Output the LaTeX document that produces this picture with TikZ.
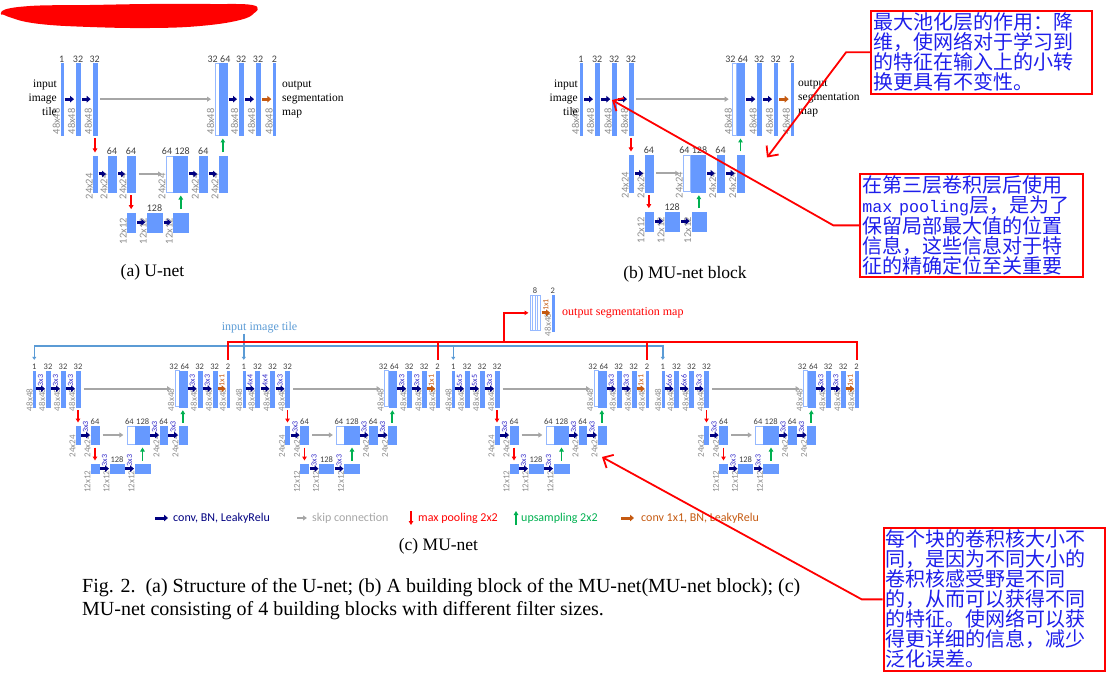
\documentclass[tikz,border=0pt]{standalone}
\usepackage{fontspec}
\setmainfont{Liberation Serif}
\setsansfont{Carlito}
\setmonofont{Liberation Mono}
\newfontfamily\cjk{Noto Sans CJK SC}
\usetikzlibrary{arrows.meta}

\definecolor{fmblue}{RGB}{102,153,255}
\definecolor{fmedge}{RGB}{150,185,255}
\definecolor{convblue}{RGB}{0,0,128}
\definecolor{kernblue}{RGB}{48,40,200}
\definecolor{skipgray}{RGB}{166,166,166}
\definecolor{labgray}{RGB}{140,140,140}
\definecolor{poolred}{RGB}{255,0,0}
\definecolor{upgreen}{RGB}{0,176,80}
\definecolor{oneorange}{RGB}{197,90,17}
\definecolor{inblue}{RGB}{91,155,213}
\definecolor{notered}{RGB}{255,0,0}
\definecolor{noteblue}{RGB}{30,30,235}

\tikzset{
  fmap/.style={draw=fmblue, fill=fmblue, line width=0.3pt, inner sep=0pt, outer sep=0pt, anchor=north west},
  cmap/.style={draw=fmedge, fill=white, line width=0.7pt, inner sep=0pt, outer sep=0pt, anchor=north west},
  numlab/.style={font=\sffamily\fontsize{10}{10}\selectfont, text=black!75, inner sep=1pt, anchor=south},
  szlab/.style={font=\sffamily\fontsize{10.5}{10.5}\selectfont, text=labgray, rotate=90, anchor=south west, inner sep=0.5pt},
  kernlab/.style={font=\sffamily\fontsize{8}{8}\selectfont, text=kernblue, rotate=90, anchor=west, inner sep=0.8pt},
  conv/.style={draw=convblue, line width=3pt, -{Triangle[length=4pt,width=6.5pt]}, shorten <=#1, shorten >=#1},
  conv/.default=2pt,
  convone/.style={conv=#1, draw=oneorange},
  convone/.default=2pt,
  skipcon/.style={draw=skipgray, line width=2pt, -{Triangle[length=4pt,width=5pt]}, shorten <=3.5pt, shorten >=4pt},
  pool/.style={draw=poolred, line width=1.8pt, -{Triangle[length=4pt,width=4.5pt]}, shorten <=3.5pt, shorten >=3.5pt},
  upsam/.style={pool, draw=upgreen},
  inline/.style={draw=inblue, line width=1.5pt},
  redline/.style={draw=notered, line width=2pt},
  sidetxt/.style={font=\fontsize{11.5}{14}\selectfont, inner sep=0pt},
  captxt/.style={font=\fontsize{17.5}{20}\selectfont, inner sep=0pt, anchor=base},
  figtxt/.style={font=\fontsize{20}{23}\selectfont, inner sep=0pt, anchor=base west},
  legtxt/.style={font=\sffamily\fontsize{12}{12}\selectfont, inner sep=0pt, anchor=west},
  note/.style={draw=notered, line width=2pt, fill=white, font=\cjk\fontsize{20}{20}\selectfont, text=noteblue, align=left, inner xsep=2pt, inner ysep=0pt, anchor=north west},
  notearrow/.style={draw=notered, line width=1.8pt, -{Straight Barb[length=8pt,width=15pt]}}
}

% bar: [style]{name}{x}{y}{width}{height}{number}{size}{size drop}
\newcommand{\fmbar}[9][fmap]{%
  \node[#1, minimum width=#5pt, minimum height=#6pt] (#2) at (#3,#4) {};
  \if\relax\detokenize{#7}\relax\else\node[numlab] (#2-n) at (#2.north) {#7};\fi
  \if\relax\detokenize{#8}\relax\else\node[szlab] (#2-s) at ([yshift=-#9pt]#2.south west) {#8};\fi
}

% one MU-net block of (c): {name}{x}{k1}{k2}{k3}
\newcommand{\mublock}[5]{%
  \begin{scope}[xshift=#2pt]
    \fmbar{#1-i}{0}{370.7}{2}{36}{1}{48x48}{5}
    \fmbar{#1-c1}{12.7}{370.7}{4}{36}{32}{48x48}{5}
    \fmbar{#1-c2}{27.7}{370.7}{4}{36}{32}{48x48}{5}
    \fmbar{#1-c3}{42.7}{370.7}{4}{36}{32}{48x48}{5}
    \fmbar[cmap]{#1-cw}{141.7}{370.7}{4.3}{36}{}{48x48}{5}
    \fmbar{#1-cb}{146}{370.7}{7.4}{36}{}{}{0}
    \node[numlab, anchor=south east] (#1-cw-n) at (#1-cw.north east) {32};
    \node[numlab, anchor=south west] (#1-cb-n) at (#1-cb.north west) {64};
    \fmbar{#1-d1}{164.4}{370.7}{4}{36}{32}{48x48}{5}
    \fmbar{#1-d2}{179.4}{370.7}{4}{36}{32}{48x48}{5}
    \fmbar{#1-o}{193.4}{370.7}{2.6}{36}{2}{48x48}{5}
    \fmbar{#1-m0}{42.7}{426}{4}{18}{}{24x24}{14}
    \fmbar{#1-m1}{57.7}{426}{8}{18}{64}{24x24}{14}
    \fmbar[cmap]{#1-mw}{94}{426}{7.7}{18}{}{}{0}
    \fmbar{#1-mb}{101.7}{426}{14.3}{18}{}{}{0}
    \node[numlab, anchor=south east] (#1-mw-n) at (#1-mw.north east) {64};
    \node[numlab, anchor=south west] (#1-mb-n) at (#1-mb.north west) {128};
    \fmbar{#1-m2}{126.7}{426}{7.3}{18}{64}{24x24}{14}
    \fmbar{#1-m3}{145.7}{426}{7.7}{18}{}{24x24}{14}
    \fmbar{#1-b0}{57.7}{464}{8}{9.3}{}{12x12}{20}
    \fmbar{#1-b1}{76.7}{464}{14}{9.3}{128}{12x12}{20}
    \fmbar{#1-b2}{101.7}{464}{15}{9.3}{}{12x12}{20}
    \draw[conv=1pt] (#1-i) -- node[kernlab] {#3} (#1-c1);
    \draw[conv=1pt] (#1-c1) -- node[kernlab] {#4} (#1-c2);
    \draw[conv=1pt] (#1-c2) -- node[kernlab] {#5} (#1-c3);
    \draw[skipcon] (#1-c3) -- (#1-cw);
    \draw[conv=1pt] (#1-cb) -- node[kernlab] {3x3} (#1-d1);
    \draw[conv=1pt] (#1-d1) -- node[kernlab] {3x3} (#1-d2);
    \draw[convone=1pt] (#1-d2) -- node[kernlab, text=oneorange] {1x1} (#1-o);
    \draw[conv=1pt] (#1-m0) -- node[kernlab] {3x3} (#1-m1);
    \draw[skipcon] (#1-m1) -- (#1-mw);
    \draw[conv=1pt] (#1-mb) -- node[kernlab] {3x3} (#1-m2);
    \draw[conv=1pt] (#1-m2) -- node[kernlab] {3x3} (#1-m3);
    \draw[conv=1pt] (#1-b0) -- node[kernlab] {3x3} (#1-b1);
    \draw[conv=1pt] (#1-b1) -- node[kernlab] {3x3} (#1-b2);
    \draw[pool] (#1-m0.north |- #1-c3.south) -- (#1-m0.north);
    \draw[pool] (#1-b0.north |- #1-m1.south) -- (#1-b0.north);
    \draw[upsam] (#1-m3.north) -- (#1-m3.north |- #1-cb.south);
    \draw[upsam] (#1-b2.north) -- (#1-b2.north |- #1-mb.south);
  \end{scope}}

\begin{document}
\begin{tikzpicture}[x=1pt, y=-1pt]
  \useasboundingbox (0,0) rectangle (1117,682);

  % redacted title
  \fill[notered] plot[smooth cycle, tension=0.7] coordinates {(2,11) (30,6) (90,5) (150,4) (210,4) (252,5) (255,12) (240,20) (200,26) (150,28) (90,27) (40,24) (12,18)};
  \draw[notered, line width=1.5pt] plot[smooth, tension=0.8] coordinates {(1,14) (50,9) (120,13) (180,8) (240,14) (257,9)};

  % (a) U-net
  \fmbar{a-i}{60.7}{63.3}{2}{71.7}{1}{48x48}{0}
  \fmbar{a-c1}{76}{63.3}{4}{71.7}{32}{48x48}{0}
  \fmbar{a-c2}{92.7}{63.3}{4}{71.7}{32}{48x48}{0}
  \fmbar[cmap]{a-cw}{215}{63.3}{4}{71.7}{}{48x48}{0}
  \fmbar{a-cb}{219}{63.3}{7.7}{71.7}{}{}{0}
  \node[numlab, anchor=south east] (a-cw-n) at (a-cw.north east) {32};
  \node[numlab, anchor=south west] (a-cb-n) at (a-cb.north west) {64};
  \fmbar{a-d1}{239}{63.3}{4.3}{71.7}{32}{48x48}{0}
  \fmbar{a-d2}{256}{63.3}{4}{71.7}{32}{48x48}{0}
  \fmbar{a-o}{273.3}{63.3}{2}{71.7}{2}{48x48}{0}
  \fmbar{a-m0}{93.3}{156}{3.4}{36}{}{24x24}{8}
  \fmbar{a-m1}{108}{156}{8}{36}{64}{24x24}{8}
  \fmbar{a-m2}{127}{156}{8}{36}{64}{24x24}{8}
  \fmbar[cmap]{a-mw}{166}{156}{7.3}{36}{}{24x24}{8}
  \fmbar{a-mb}{173.3}{156}{14}{36}{}{}{0}
  \node[numlab, anchor=south east] (a-mw-n) at (a-mw.north east) {64};
  \node[numlab, anchor=south west] (a-mb-n) at (a-mb.north west) {128};
  \fmbar{a-m3}{199.3}{156}{8}{36}{64}{24x24}{8}
  \fmbar{a-m4}{219}{156}{7.7}{36}{}{24x24}{8}
  \fmbar{a-b0}{127.3}{212.7}{7.7}{19}{}{12x12}{13}
  \fmbar{a-b1}{147.3}{212.7}{14.4}{19}{128}{12x12}{13}
  \fmbar{a-b2}{173.3}{212.7}{15}{19}{}{12x12}{13}
  \draw[conv] (a-i) -- (a-c1);
  \draw[conv] (a-c1) -- (a-c2);
  \draw[skipcon] (a-c2) -- (a-cw);
  \draw[conv] (a-cb) -- (a-d1);
  \draw[conv] (a-d1) -- (a-d2);
  \draw[convone] (a-d2) -- (a-o);
  \draw[conv] (a-m0) -- (a-m1);
  \draw[conv] (a-m1) -- (a-m2);
  \draw[skipcon] (a-m2) -- (a-mw);
  \draw[conv] (a-mb) -- (a-m3);
  \draw[conv] (a-m3) -- (a-m4);
  \draw[conv] (a-b0) -- (a-b1);
  \draw[conv] (a-b1) -- (a-b2);
  \draw[pool] (a-m0.north |- a-c2.south) -- (a-m0.north);
  \draw[pool] (a-b0.north |- a-m2.south) -- (a-b0.north);
  \draw[upsam] (a-m4.north) -- (a-m4.north |- a-cb.south);
  \draw[upsam] (a-b2.north) -- (a-b2.north |- a-mb.south);
  \node[sidetxt, align=right, anchor=east] (a-intxt) at (57,98) {input\\image\\tile};
  \node[sidetxt, align=left, anchor=west] (a-outtxt) at (282,99) {output\\segmentation\\map};
  \node[captxt] (capa) at (152.5,276) {(a) U-net};

  % (b) MU-net block
  \fmbar{b-i}{580}{63.3}{2}{71.7}{1}{48x48}{0}
  \fmbar{b-c1}{595}{63.3}{4.3}{71.7}{32}{48x48}{0}
  \fmbar{b-c2}{612.3}{63.3}{3.7}{71.7}{32}{48x48}{0}
  \fmbar{b-c3}{629}{63.3}{3.7}{71.7}{32}{48x48}{0}
  \fmbar[cmap]{b-cw}{732.7}{63.3}{4}{71.7}{}{48x48}{0}
  \fmbar{b-cb}{736.7}{63.3}{7.3}{71.7}{}{}{0}
  \node[numlab, anchor=south east] (b-cw-n) at (b-cw.north east) {32};
  \node[numlab, anchor=south west] (b-cb-n) at (b-cb.north west) {64};
  \fmbar{b-d1}{757.3}{63.3}{3.7}{71.7}{32}{48x48}{0}
  \fmbar{b-d2}{774}{63.3}{3.3}{71.7}{32}{48x48}{0}
  \fmbar{b-o}{790.7}{63.3}{2.6}{71.7}{2}{48x48}{0}
  \fmbar{b-m0}{629.3}{155}{3.4}{36.7}{}{24x24}{7}
  \fmbar{b-m1}{645}{155}{7.7}{36.7}{64}{24x24}{7}
  \fmbar[cmap]{b-mw}{683.3}{155}{7.4}{36.7}{}{24x24}{7}
  \fmbar{b-mb}{690.7}{155}{14.3}{36.7}{}{}{0}
  \node[numlab, anchor=south east] (b-mw-n) at (b-mw.north east) {64};
  \node[numlab, anchor=south west] (b-mb-n) at (b-mb.north west) {128};
  \fmbar{b-m2}{716.7}{155}{7.6}{36.7}{64}{24x24}{7}
  \fmbar{b-m3}{736.7}{155}{7.6}{36.7}{}{24x24}{7}
  \fmbar{b-b0}{645}{211.7}{7.7}{19}{}{12x12}{13}
  \fmbar{b-b1}{665}{211.7}{14.3}{19}{128}{12x12}{13}
  \fmbar{b-b2}{691.7}{211.7}{14.3}{19}{}{12x12}{13}
  \draw[conv] (b-i) -- (b-c1);
  \draw[conv] (b-c1) -- (b-c2);
  \draw[conv] (b-c2) -- (b-c3);
  \draw[skipcon] (b-c3) -- (b-cw);
  \draw[conv] (b-cb) -- (b-d1);
  \draw[conv] (b-d1) -- (b-d2);
  \draw[convone] (b-d2) -- (b-o);
  \draw[conv] (b-m0) -- (b-m1);
  \draw[skipcon] (b-m1) -- (b-mw);
  \draw[conv] (b-mb) -- (b-m2);
  \draw[conv] (b-m2) -- (b-m3);
  \draw[conv] (b-b0) -- (b-b1);
  \draw[conv] (b-b1) -- (b-b2);
  \draw[pool] (b-m0.north |- b-c3.south) -- (b-m0.north);
  \draw[pool] (b-b0.north |- b-m1.south) -- (b-b0.north);
  \draw[upsam] (b-m3.north) -- (b-m3.north |- b-cb.south);
  \draw[upsam] (b-b2.north) -- (b-b2.north |- b-mb.south);
  \node[sidetxt, align=right, anchor=east] (b-intxt) at (578,97.3) {input\\image\\tile};
  \node[sidetxt, align=left, anchor=west] (b-outtxt) at (798,98.3) {output\\segmentation\\map};
  \node[captxt] (capb) at (685,278) {(b) MU-net block};

  % (c) MU-net
  \begin{scope}[numlab/.append style={font=\sffamily\fontsize{8.5}{8.5}\selectfont},
                szlab/.append style={font=\sffamily\fontsize{9}{9}\selectfont}]
    \mublock{c1}{33.3}{3x3}{3x3}{3x3}
    \mublock{c2}{242.8}{4x4}{4x4}{3x3}
    \mublock{c3}{452.3}{5x5}{5x5}{3x3}
    \mublock{c4}{661.8}{6x6}{6x6}{3x3}
    \fmbar[cmap]{stk}{530}{295}{10}{35.7}{8}{}{0}
    \foreach \k in {1,2,3}
      \draw[fmedge, line width=0.6pt] ([xshift=\k*2.5pt]stk.north west) -- ([xshift=\k*2.5pt]stk.south west);
    \fmbar{seg}{551.7}{295}{2.3}{35.7}{2}{48x48}{6}
    \draw[convone=1.5pt] (stk) -- node[kernlab, text=oneorange] {1x1} (seg);
  \end{scope}
  \node[sidetxt, font=\fontsize{12}{14}\selectfont, text=notered, anchor=west] (segtxt) at (562,313.3) {output segmentation map};
  \node[sidetxt, font=\fontsize{12}{14}\selectfont, text=inblue] (tile) at (259.5,328) {input image tile};
  \coordinate (bl) at (0,346);
  \coordinate (rl) at (0,341.7);
  \coordinate (rj) at (504,341.7);
  \draw[inline, {Triangle[length=3pt,width=4pt]}-{Triangle[length=3pt,width=4pt]}, shorten <=3pt, shorten >=3pt]
    (c1-i-n.north) |- (c4-i-n.north |- bl) -- (c4-i-n.north);
  \foreach \blk in {c2,c3}
    \draw[inline, -{Triangle[length=3pt,width=4pt]}, shorten >=3pt] (\blk-i-n.north |- bl) -- (\blk-i-n.north);
  \draw[inline] (tile.south -| c2-i-n.north) -- (c2-i-n.north |- bl);
  \draw[redline, shorten <=3pt, shorten >=3pt] (c1-o-n.north) |- (c4-o-n.north |- rl) -- (c4-o-n.north);
  \foreach \blk in {c2,c3}
    \draw[redline, shorten <=3pt] (\blk-o-n.north) -- (\blk-o-n.north |- rl);
  \draw[redline, -{Triangle[length=4pt,width=4.5pt]}, shorten >=1.5pt] (rj) |- (stk.west);

  % legend
  \node[legtxt, text=convblue] (lg1) at (173,518) {conv, BN, LeakyRelu};
  \node[legtxt, text=skipgray] (lg2) at (312,518) {skip connection};
  \node[legtxt, text=poolred] (lg3) at (418,518) {max pooling 2x2};
  \node[legtxt, text=upgreen] (lg4) at (521,518) {upsampling 2x2};
  \node[legtxt, text=oneorange] (lg5) at (641,518) {conv 1x1, BN, LeakyRelu};
  \draw[conv=0pt] ([xshift=-18pt]lg1.west) -- ([xshift=-5pt]lg1.west);
  \draw[skipcon, line width=1.5pt, shorten <=0pt, shorten >=0pt] ([xshift=-15pt]lg2.west) -- ([xshift=-5pt]lg2.west);
  \draw[pool, shorten <=0pt, shorten >=0pt] ([xshift=-7pt,yshift=7pt]lg3.west) -- ([xshift=-7pt,yshift=-7pt]lg3.west);
  \draw[upsam, shorten <=0pt, shorten >=0pt] ([xshift=-5pt,yshift=-7pt]lg4.west) -- ([xshift=-5pt,yshift=7pt]lg4.west);
  \draw[convone=0pt] ([xshift=-20pt]lg5.west) -- ([xshift=-7pt]lg5.west);
  \node[captxt] (capc) at (438.5,550) {(c) MU-net};

  % figure caption
  \node[figtxt] (fig1) at (82,592) {Fig. 2.\ \ (a) Structure of the U-net; (b) A building block of the MU-net(MU-net block); (c)};
  \node[figtxt] (fig2) at (82,615) {MU-net consisting of 4 building blocks with different filter sizes.};

  % notes
  \node[note, minimum width=220.7pt, minimum height=82.7pt, text width=216.7pt] (note1) at (870,10)
    {最大池化层的作用：降\\维，使网络对于学习到\\的特征在输入上的小转\\换更具有不变性。};
  \node[note, minimum width=222.4pt, minimum height=103.3pt, text width=218.4pt] (note2) at (859.3,172.7)
    {在第三层卷积层后使用\\{\ttfamily\fontsize{16.7}{20}\selectfont max pooling}层，是为了\\保留局部最大值的位置\\信息，这些信息对于特\\征的精确定位至关重要};
  \node[note, minimum width=221.6pt, minimum height=143.3pt, text width=217.6pt] (note3) at (882.7,526.7)
    {每个块的卷积核大小不\\同，是因为不同大小的\\卷积核感受野是不同\\的，从而可以获得不同\\的特征。使网络可以获\\得更详细的信息，减少\\泛化误差。};
  \coordinate (tip1) at (767,157.5);
  \coordinate (tip2) at (612,100);
  \coordinate (tip3) at (602,457);
  \draw[notearrow] (note1.west) -- ++(-24,0) -- (tip1);
  \draw[notearrow] (note2.west) -- ++(-26,0) -- (tip2);
  \draw[notearrow] (note3.west) -- ++(-21,0) -- (tip3);
\end{tikzpicture}
\end{document}
